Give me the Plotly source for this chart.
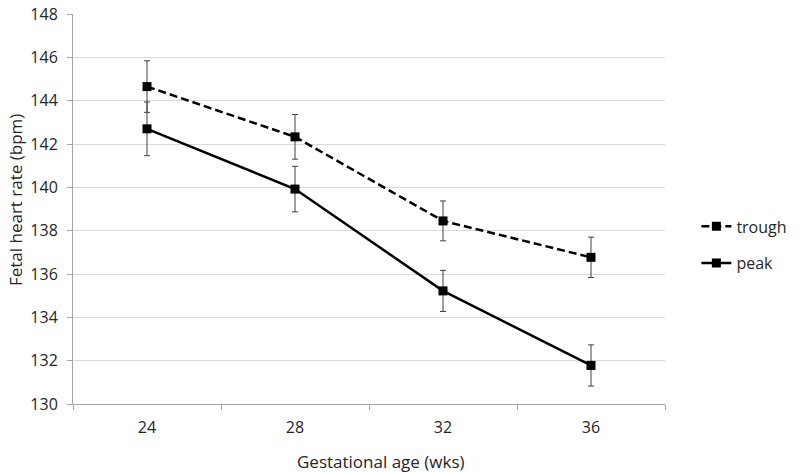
import plotly.graph_objects as go

ages = ["24", "28", "32", "36"]
trough = [144.65, 142.33, 138.45, 136.77]
trough_err = [1.19, 1.03, 0.92, 0.93]
peak = [142.70, 139.92, 135.22, 131.78]
peak_err = [1.24, 1.05, 0.95, 0.95]
y_ticks = list(range(130, 149, 2))

FONT = "Open Sans"
TXT = "#262626"
AX = "#a6a6a6"

fig = go.Figure()
fig.add_trace(go.Scatter(
    x=ages, y=trough, name="trough", mode="lines+markers",
    line=dict(color="black", width=2.5, dash="8px,4px"),
    marker=dict(symbol="square", size=9, color="black"),
    error_y=dict(type="data", array=trough_err, visible=True, color="#404040", thickness=1, width=3),
    legendgroup="a",
))
fig.add_trace(go.Scatter(
    x=ages, y=peak, name="peak", mode="lines+markers",
    line=dict(color="black", width=2.5),
    marker=dict(symbol="square", size=9, color="black"),
    error_y=dict(type="data", array=peak_err, visible=True, color="#404040", thickness=1, width=3),
    legendgroup="b",
))

fig.update_layout(
    width=800, height=472,
    margin=dict(l=73, r=135, t=14, b=68, autoexpand=False),
    paper_bgcolor="white", plot_bgcolor="white",
    font=dict(family=FONT, size=15, color=TXT),
    showlegend=True,
    legend=dict(x=1.053, y=0.408, xanchor="left", yanchor="middle",
                traceorder="grouped", tracegroupgap=13,
                font=dict(family=FONT, size=16, color=TXT),
                bgcolor="rgba(0,0,0,0)"),
    xaxis=dict(
        type="category", range=[-0.5, 3.5], automargin=False,
        showline=True, linecolor=AX, linewidth=1,
        ticks="outside", tickson="boundaries", ticklen=5, tickcolor=AX,
        showgrid=False, zeroline=False,
        tickfont=dict(family=FONT, size=16, color=TXT),
        ticklabelstandoff=9,
    ),
    yaxis=dict(
        range=[130, 148], tickvals=y_ticks, automargin=False,
        showline=True, linecolor=AX, linewidth=1,
        ticks="outside", ticklen=5, tickcolor=AX,
        showgrid=True, gridcolor="#d9d9d9", gridwidth=1, zeroline=False,
        tickfont=dict(family=FONT, size=16, color=TXT),
        ticklabelstandoff=6,
    ),
    annotations=[
        dict(text="Gestational age (wks)", xref="paper", yref="paper",
             x=0.52, y=0, xanchor="center", yanchor="middle", yshift=-57,
             showarrow=False, font=dict(family=FONT, size=17, color=TXT)),
        dict(text="Fetal heart rate (bpm)", xref="paper", yref="paper",
             x=0, y=0.523, xanchor="center", yanchor="middle", xshift=-58,
             textangle=-90, showarrow=False, font=dict(family=FONT, size=17, color=TXT)),
    ],
)

fig.write_html("out.html", config={"displayModeBar": False},
               post_script="document.body.style.margin='0';document.body.style.overflow='hidden';")
